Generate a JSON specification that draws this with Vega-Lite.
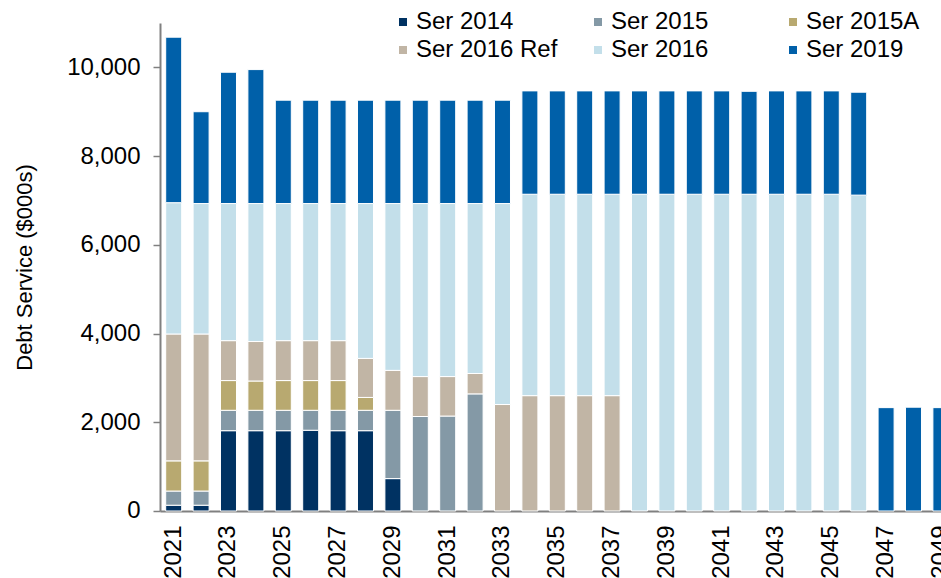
{
  "$schema": "https://vega.github.io/schema/vega-lite/v6.json",
  "autosize": {"type": "none"},
  "padding": {"left": 160, "top": 23, "right": 0, "bottom": 67},
  "width": 794.6,
  "height": 488,
  "background": "white",
  "config": {
    "view": {"stroke": null},
    "font": "Liberation Sans",
    "axis": {"labelFont": "Liberation Sans", "titleFont": "Liberation Sans", "labelColor": "#000000", "titleColor": "#000000", "grid": false}
  },
  "data": {
    "values": [
      {"year": "2021", "series": "Ser 2014", "value": 130},
      {"year": "2021", "series": "Ser 2015", "value": 320},
      {"year": "2021", "series": "Ser 2015A", "value": 680},
      {"year": "2021", "series": "Ser 2016 Ref", "value": 2860},
      {"year": "2021", "series": "Ser 2016", "value": 2960},
      {"year": "2021", "series": "Ser 2019", "value": 3730},
      {"year": "2022", "series": "Ser 2014", "value": 130},
      {"year": "2022", "series": "Ser 2015", "value": 320},
      {"year": "2022", "series": "Ser 2015A", "value": 680},
      {"year": "2022", "series": "Ser 2016 Ref", "value": 2860},
      {"year": "2022", "series": "Ser 2016", "value": 2940},
      {"year": "2022", "series": "Ser 2019", "value": 2070},
      {"year": "2023", "series": "Ser 2014", "value": 1810},
      {"year": "2023", "series": "Ser 2015", "value": 460},
      {"year": "2023", "series": "Ser 2015A", "value": 670},
      {"year": "2023", "series": "Ser 2016 Ref", "value": 900},
      {"year": "2023", "series": "Ser 2016", "value": 3090},
      {"year": "2023", "series": "Ser 2019", "value": 2960},
      {"year": "2024", "series": "Ser 2014", "value": 1810},
      {"year": "2024", "series": "Ser 2015", "value": 460},
      {"year": "2024", "series": "Ser 2015A", "value": 660},
      {"year": "2024", "series": "Ser 2016 Ref", "value": 890},
      {"year": "2024", "series": "Ser 2016", "value": 3110},
      {"year": "2024", "series": "Ser 2019", "value": 3020},
      {"year": "2025", "series": "Ser 2014", "value": 1810},
      {"year": "2025", "series": "Ser 2015", "value": 460},
      {"year": "2025", "series": "Ser 2015A", "value": 670},
      {"year": "2025", "series": "Ser 2016 Ref", "value": 900},
      {"year": "2025", "series": "Ser 2016", "value": 3090},
      {"year": "2025", "series": "Ser 2019", "value": 2330},
      {"year": "2026", "series": "Ser 2014", "value": 1820},
      {"year": "2026", "series": "Ser 2015", "value": 450},
      {"year": "2026", "series": "Ser 2015A", "value": 670},
      {"year": "2026", "series": "Ser 2016 Ref", "value": 900},
      {"year": "2026", "series": "Ser 2016", "value": 3090},
      {"year": "2026", "series": "Ser 2019", "value": 2330},
      {"year": "2027", "series": "Ser 2014", "value": 1810},
      {"year": "2027", "series": "Ser 2015", "value": 460},
      {"year": "2027", "series": "Ser 2015A", "value": 670},
      {"year": "2027", "series": "Ser 2016 Ref", "value": 900},
      {"year": "2027", "series": "Ser 2016", "value": 3090},
      {"year": "2027", "series": "Ser 2019", "value": 2330},
      {"year": "2028", "series": "Ser 2014", "value": 1810},
      {"year": "2028", "series": "Ser 2015", "value": 460},
      {"year": "2028", "series": "Ser 2015A", "value": 290},
      {"year": "2028", "series": "Ser 2016 Ref", "value": 880},
      {"year": "2028", "series": "Ser 2016", "value": 3490},
      {"year": "2028", "series": "Ser 2019", "value": 2330},
      {"year": "2029", "series": "Ser 2014", "value": 730},
      {"year": "2029", "series": "Ser 2015", "value": 1540},
      {"year": "2029", "series": "Ser 2016 Ref", "value": 900},
      {"year": "2029", "series": "Ser 2016", "value": 3760},
      {"year": "2029", "series": "Ser 2019", "value": 2330},
      {"year": "2030", "series": "Ser 2015", "value": 2130},
      {"year": "2030", "series": "Ser 2016 Ref", "value": 900},
      {"year": "2030", "series": "Ser 2016", "value": 3900},
      {"year": "2030", "series": "Ser 2019", "value": 2330},
      {"year": "2031", "series": "Ser 2015", "value": 2140},
      {"year": "2031", "series": "Ser 2016 Ref", "value": 890},
      {"year": "2031", "series": "Ser 2016", "value": 3900},
      {"year": "2031", "series": "Ser 2019", "value": 2330},
      {"year": "2032", "series": "Ser 2015", "value": 2640},
      {"year": "2032", "series": "Ser 2016 Ref", "value": 460},
      {"year": "2032", "series": "Ser 2016", "value": 3830},
      {"year": "2032", "series": "Ser 2019", "value": 2330},
      {"year": "2033", "series": "Ser 2016 Ref", "value": 2400},
      {"year": "2033", "series": "Ser 2016", "value": 4530},
      {"year": "2033", "series": "Ser 2019", "value": 2330},
      {"year": "2034", "series": "Ser 2016 Ref", "value": 2600},
      {"year": "2034", "series": "Ser 2016", "value": 4540},
      {"year": "2034", "series": "Ser 2019", "value": 2330},
      {"year": "2035", "series": "Ser 2016 Ref", "value": 2600},
      {"year": "2035", "series": "Ser 2016", "value": 4540},
      {"year": "2035", "series": "Ser 2019", "value": 2330},
      {"year": "2036", "series": "Ser 2016 Ref", "value": 2600},
      {"year": "2036", "series": "Ser 2016", "value": 4540},
      {"year": "2036", "series": "Ser 2019", "value": 2330},
      {"year": "2037", "series": "Ser 2016 Ref", "value": 2600},
      {"year": "2037", "series": "Ser 2016", "value": 4540},
      {"year": "2037", "series": "Ser 2019", "value": 2330},
      {"year": "2038", "series": "Ser 2016", "value": 7140},
      {"year": "2038", "series": "Ser 2019", "value": 2330},
      {"year": "2039", "series": "Ser 2016", "value": 7140},
      {"year": "2039", "series": "Ser 2019", "value": 2330},
      {"year": "2040", "series": "Ser 2016", "value": 7140},
      {"year": "2040", "series": "Ser 2019", "value": 2330},
      {"year": "2041", "series": "Ser 2016", "value": 7140},
      {"year": "2041", "series": "Ser 2019", "value": 2330},
      {"year": "2042", "series": "Ser 2016", "value": 7140},
      {"year": "2042", "series": "Ser 2019", "value": 2320},
      {"year": "2043", "series": "Ser 2016", "value": 7140},
      {"year": "2043", "series": "Ser 2019", "value": 2330},
      {"year": "2044", "series": "Ser 2016", "value": 7140},
      {"year": "2044", "series": "Ser 2019", "value": 2330},
      {"year": "2045", "series": "Ser 2016", "value": 7140},
      {"year": "2045", "series": "Ser 2019", "value": 2330},
      {"year": "2046", "series": "Ser 2016", "value": 7120},
      {"year": "2046", "series": "Ser 2019", "value": 2320},
      {"year": "2047", "series": "Ser 2019", "value": 2330},
      {"year": "2048", "series": "Ser 2019", "value": 2340},
      {"year": "2049", "series": "Ser 2019", "value": 2330}
    ]
  },
  "transform": [
    {"calculate": "indexof(['Ser 2014','Ser 2015','Ser 2015A','Ser 2016 Ref','Ser 2016','Ser 2019'], datum.series)", "as": "ord"}
  ],
  "mark": {"type": "bar", "stroke": "white", "strokeWidth": 1},
  "encoding": {
    "x": {
      "field": "year", "type": "ordinal",
      "scale": {"paddingInner": 0.416, "paddingOuter": 0.208},
      "axis": {
        "title": null,
        "values": ["2021","2023","2025","2027","2029","2031","2033","2035","2037","2039","2041","2043","2045","2047","2049"],
        "labelAngle": -90,
        "labelFontSize": 24,
        "labelPadding": 14,
        "ticks": false,
        "tickSize": 0,
        "domainColor": "#808080",
        "domainWidth": 2
      }
    },
    "y": {
      "field": "value", "type": "quantitative", "stack": "zero",
      "scale": {"domain": [0, 11000], "nice": false},
      "axis": {
        "title": "Debt Service ($000s)",
        "titleFontSize": 22,
        "titleFontWeight": "normal",
        "titlePadding": 30,
        "values": [0, 2000, 4000, 6000, 8000, 10000],
        "format": ",.0f",
        "labelFontSize": 24,
        "labelPadding": 13,
        "tickSize": 7,
        "tickColor": "#808080",
        "tickWidth": 1.5,
        "domainColor": "#808080",
        "domainWidth": 2
      }
    },
    "color": {
      "field": "series", "type": "nominal",
      "scale": {
        "domain": ["Ser 2014","Ser 2015","Ser 2015A","Ser 2016 Ref","Ser 2016","Ser 2019"],
        "range": ["#003262","#8499A6","#B8A970","#C1B5A5","#C3DFEA","#0060A9"]
      },
      "legend": {
        "title": null,
        "orient": "none",
        "legendX": 231,
        "legendY": -13,
        "direction": "horizontal",
        "columns": 3,
        "gridAlign": "all",
        "columnPadding": 28,
        "rowPadding": 4,
        "padding": 0,
        "symbolType": "square",
        "symbolSize": 64,
        "symbolStrokeWidth": 0,
        "labelOffset": 1,
        "labelFontSize": 24,
        "labelFont": "Liberation Sans",
        "labelColor": "#000000",
        "labelLimit": 300
      }
    },
    "order": {"field": "ord", "type": "quantitative", "sort": "ascending"}
  }
}
